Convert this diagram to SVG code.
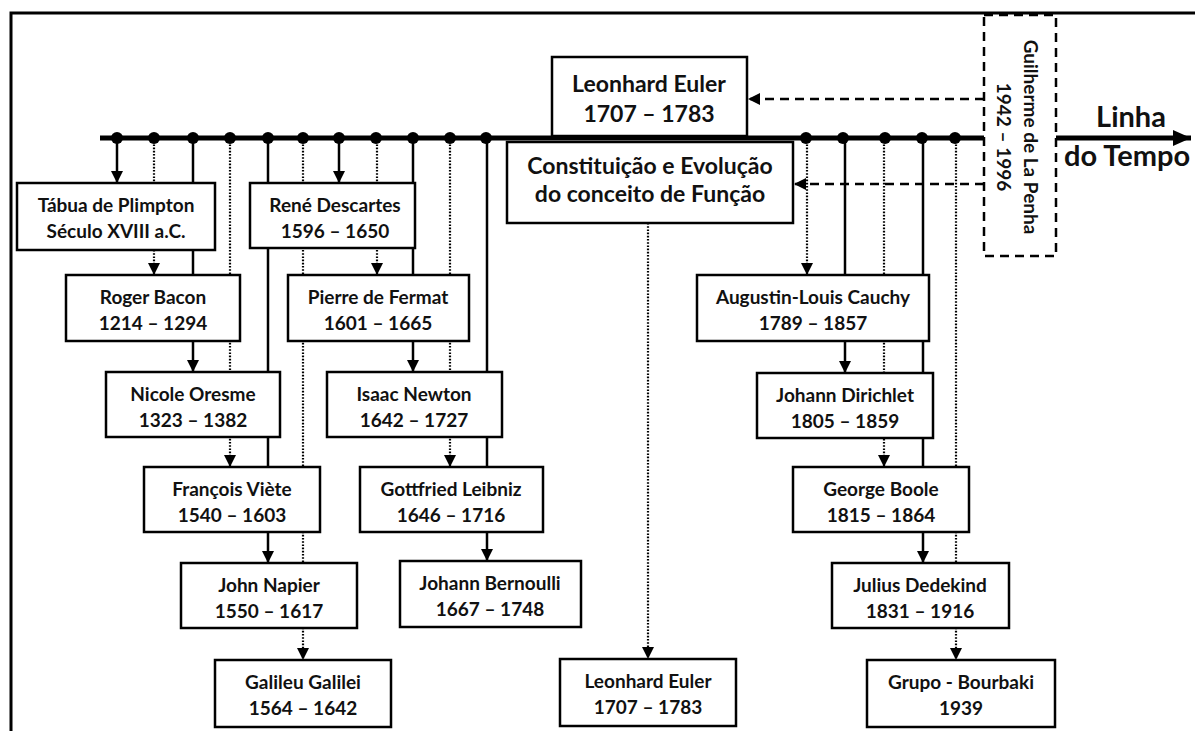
<svg xmlns="http://www.w3.org/2000/svg" width="1195" height="731" viewBox="0 0 1195 731">
<style>
.box{fill:#fff;stroke:#000;stroke-width:2.5}
.gbox{fill:#fff;stroke:#000;stroke-width:2.5;stroke-dasharray:9 6}
.t{font-family:Lato,"Liberation Sans",sans-serif;font-weight:bold;font-size:19px;fill:#111;text-anchor:middle}
.tl{font-size:23px}
.big{font-size:29px}
.solid{stroke:#000;stroke-width:2.5;fill:none}
.dot{stroke:#000;stroke-width:2.2;stroke-dasharray:1.6 1.6;fill:none}
.dash{stroke:#000;stroke-width:2.5;stroke-dasharray:9 6;fill:none}
</style>
<defs>
<marker id="ah" markerUnits="userSpaceOnUse" markerWidth="12" markerHeight="12" refX="12" refY="6" orient="auto"><path d="M0,0 L12,6 L0,12 z" fill="#000" stroke="none"/></marker>
<marker id="big" markerUnits="userSpaceOnUse" markerWidth="18" markerHeight="16" refX="18" refY="8" orient="auto"><path d="M0,0 L18,8 L0,16 z" fill="#000" stroke="none"/></marker>
</defs>
<rect width="1195" height="731" fill="#fff"/>
<path d="M11,731 L11,13 L1195,13" fill="none" stroke="#000" stroke-width="3"/>
<g id="timeline">
<line x1="100" y1="138" x2="1000" y2="138" stroke="#000" stroke-width="5"/>
<line x1="1050" y1="138" x2="1191" y2="138" stroke="#000" stroke-width="5" marker-end="url(#big)"/>
<g fill="#000">
<circle cx="117" cy="138" r="6"/><circle cx="154" cy="138" r="6"/><circle cx="193" cy="138" r="6"/><circle cx="230" cy="138" r="6"/><circle cx="268" cy="138" r="6"/><circle cx="303" cy="138" r="6"/><circle cx="339" cy="138" r="6"/><circle cx="376" cy="138" r="6"/><circle cx="413" cy="138" r="6"/><circle cx="450" cy="138" r="6"/><circle cx="486" cy="138" r="6"/><circle cx="806" cy="138" r="6"/><circle cx="843" cy="138" r="6"/><circle cx="885" cy="138" r="6"/><circle cx="922" cy="138" r="6"/><circle cx="955" cy="138" r="6"/>
</g>
<text x="1131" y="127" class="t big">Linha</text>
<text x="1064" y="166" class="t big" style="text-anchor:start">do Tempo</text>
</g>
<g id="connectors">
<line class="solid" x1="117" y1="138" x2="117" y2="183" marker-end="url(#ah)"/>
<line class="dot" x1="154" y1="138" x2="154" y2="275" marker-end="url(#ah)"/>
<line class="solid" x1="193" y1="138" x2="193" y2="372" marker-end="url(#ah)"/>
<line class="dot" x1="230" y1="138" x2="230" y2="467" marker-end="url(#ah)"/>
<line class="solid" x1="268" y1="138" x2="268" y2="563" marker-end="url(#ah)"/>
<line class="dot" x1="303" y1="138" x2="303" y2="660" marker-end="url(#ah)"/>
<line class="solid" x1="339" y1="138" x2="339" y2="183" marker-end="url(#ah)"/>
<line class="dot" x1="377" y1="138" x2="377" y2="275" marker-end="url(#ah)"/>
<line class="solid" x1="413" y1="138" x2="413" y2="372" marker-end="url(#ah)"/>
<line class="dot" x1="450" y1="138" x2="450" y2="467" marker-end="url(#ah)"/>
<line class="solid" x1="487" y1="138" x2="487" y2="561" marker-end="url(#ah)"/>
<line class="dot" x1="648" y1="223" x2="648" y2="659" marker-end="url(#ah)"/>
<line class="dot" x1="807" y1="138" x2="807" y2="275" marker-end="url(#ah)"/>
<line class="solid" x1="845" y1="138" x2="845" y2="373" marker-end="url(#ah)"/>
<line class="dot" x1="884" y1="138" x2="884" y2="467" marker-end="url(#ah)"/>
<line class="solid" x1="923" y1="138" x2="923" y2="563" marker-end="url(#ah)"/>
<line class="dot" x1="956" y1="138" x2="956" y2="660" marker-end="url(#ah)"/>
<line class="dash" x1="984" y1="99" x2="748" y2="99" marker-end="url(#ah)"/>
<line class="dash" x1="984" y1="184" x2="794" y2="184" marker-end="url(#ah)"/>
</g>
<g id="tabua"><rect class="box" x="17" y="183" width="198" height="67"/><text class="t" x="116" y="212">Tábua de Plimpton</text><text class="t" x="116" y="238">Século XVIII a.C.</text></g>
<g id="descartes"><rect class="box" x="250" y="183" width="165" height="65"/><text class="t" x="335" y="212">René Descartes</text><text class="t" x="335" y="238">1596 – 1650</text></g>
<g id="bacon"><rect class="box" x="66" y="275" width="174" height="66"/><text class="t" x="153" y="304">Roger Bacon</text><text class="t" x="153" y="330">1214 – 1294</text></g>
<g id="fermat"><rect class="box" x="288" y="275" width="181" height="66"/><text class="t" x="378" y="304">Pierre de Fermat</text><text class="t" x="378" y="330">1601 – 1665</text></g>
<g id="oresme"><rect class="box" x="106" y="372" width="174" height="65"/><text class="t" x="193" y="401">Nicole Oresme</text><text class="t" x="193" y="427">1323 – 1382</text></g>
<g id="newton"><rect class="box" x="327" y="372" width="175" height="65"/><text class="t" x="414" y="401">Isaac Newton</text><text class="t" x="414" y="427">1642 – 1727</text></g>
<g id="viete"><rect class="box" x="144" y="467" width="176" height="65"/><text class="t" x="232" y="496">François Viète</text><text class="t" x="232" y="522">1540 – 1603</text></g>
<g id="leibniz"><rect class="box" x="360" y="467" width="183" height="65"/><text class="t" x="451" y="496">Gottfried Leibniz</text><text class="t" x="451" y="522">1646 – 1716</text></g>
<g id="napier"><rect class="box" x="181" y="563" width="176" height="65"/><text class="t" x="269" y="592">John Napier</text><text class="t" x="269" y="618">1550 – 1617</text></g>
<g id="bernoulli"><rect class="box" x="400" y="561" width="181" height="66"/><text class="t" x="490" y="590">Johann Bernoulli</text><text class="t" x="490" y="616">1667 – 1748</text></g>
<g id="galileu"><rect class="box" x="215" y="660" width="176" height="67"/><text class="t" x="303" y="689">Galileu Galilei</text><text class="t" x="303" y="715">1564 – 1642</text></g>
<g id="euler-bottom"><rect class="box" x="560" y="659" width="176" height="67"/><text class="t" x="648" y="688">Leonhard Euler</text><text class="t" x="648" y="714">1707 – 1783</text></g>
<g id="euler-top"><rect class="box" x="552" y="57" width="195" height="79"/><text class="t tl" x="649" y="92">Leonhard Euler</text><text class="t tl" x="649" y="122">1707 – 1783</text></g>
<g id="constituicao"><rect class="box" x="507" y="142" width="286" height="81"/><text class="t tl" x="650" y="174">Constituição e Evolução</text><text class="t tl" x="650" y="202">do conceito de Função</text></g>
<g id="cauchy"><rect class="box" x="697" y="275" width="232" height="66"/><text class="t" x="813" y="304">Augustin-Louis Cauchy</text><text class="t" x="813" y="330">1789 – 1857</text></g>
<g id="dirichlet"><rect class="box" x="757" y="373" width="176" height="65"/><text class="t" x="845" y="402">Johann Dirichlet</text><text class="t" x="845" y="428">1805 – 1859</text></g>
<g id="boole"><rect class="box" x="793" y="467" width="176" height="65"/><text class="t" x="881" y="496">George Boole</text><text class="t" x="881" y="522">1815 – 1864</text></g>
<g id="dedekind"><rect class="box" x="832" y="563" width="177" height="65"/><text class="t" x="920" y="592">Julius Dedekind</text><text class="t" x="920" y="618">1831 – 1916</text></g>
<g id="bourbaki"><rect class="box" x="867" y="660" width="188" height="67"/><text class="t" x="961" y="689">Grupo - Bourbaki</text><text class="t" x="961" y="715">1939</text></g>
<g id="guilherme"><rect class="gbox" x="984" y="15" width="72" height="241"/><text class="t" transform="translate(1024,137) rotate(90)" x="0" y="0">Guilherme de La Penha</text><text class="t" transform="translate(997,137) rotate(90)" x="0" y="0">1942 – 1996</text></g>
</svg>
